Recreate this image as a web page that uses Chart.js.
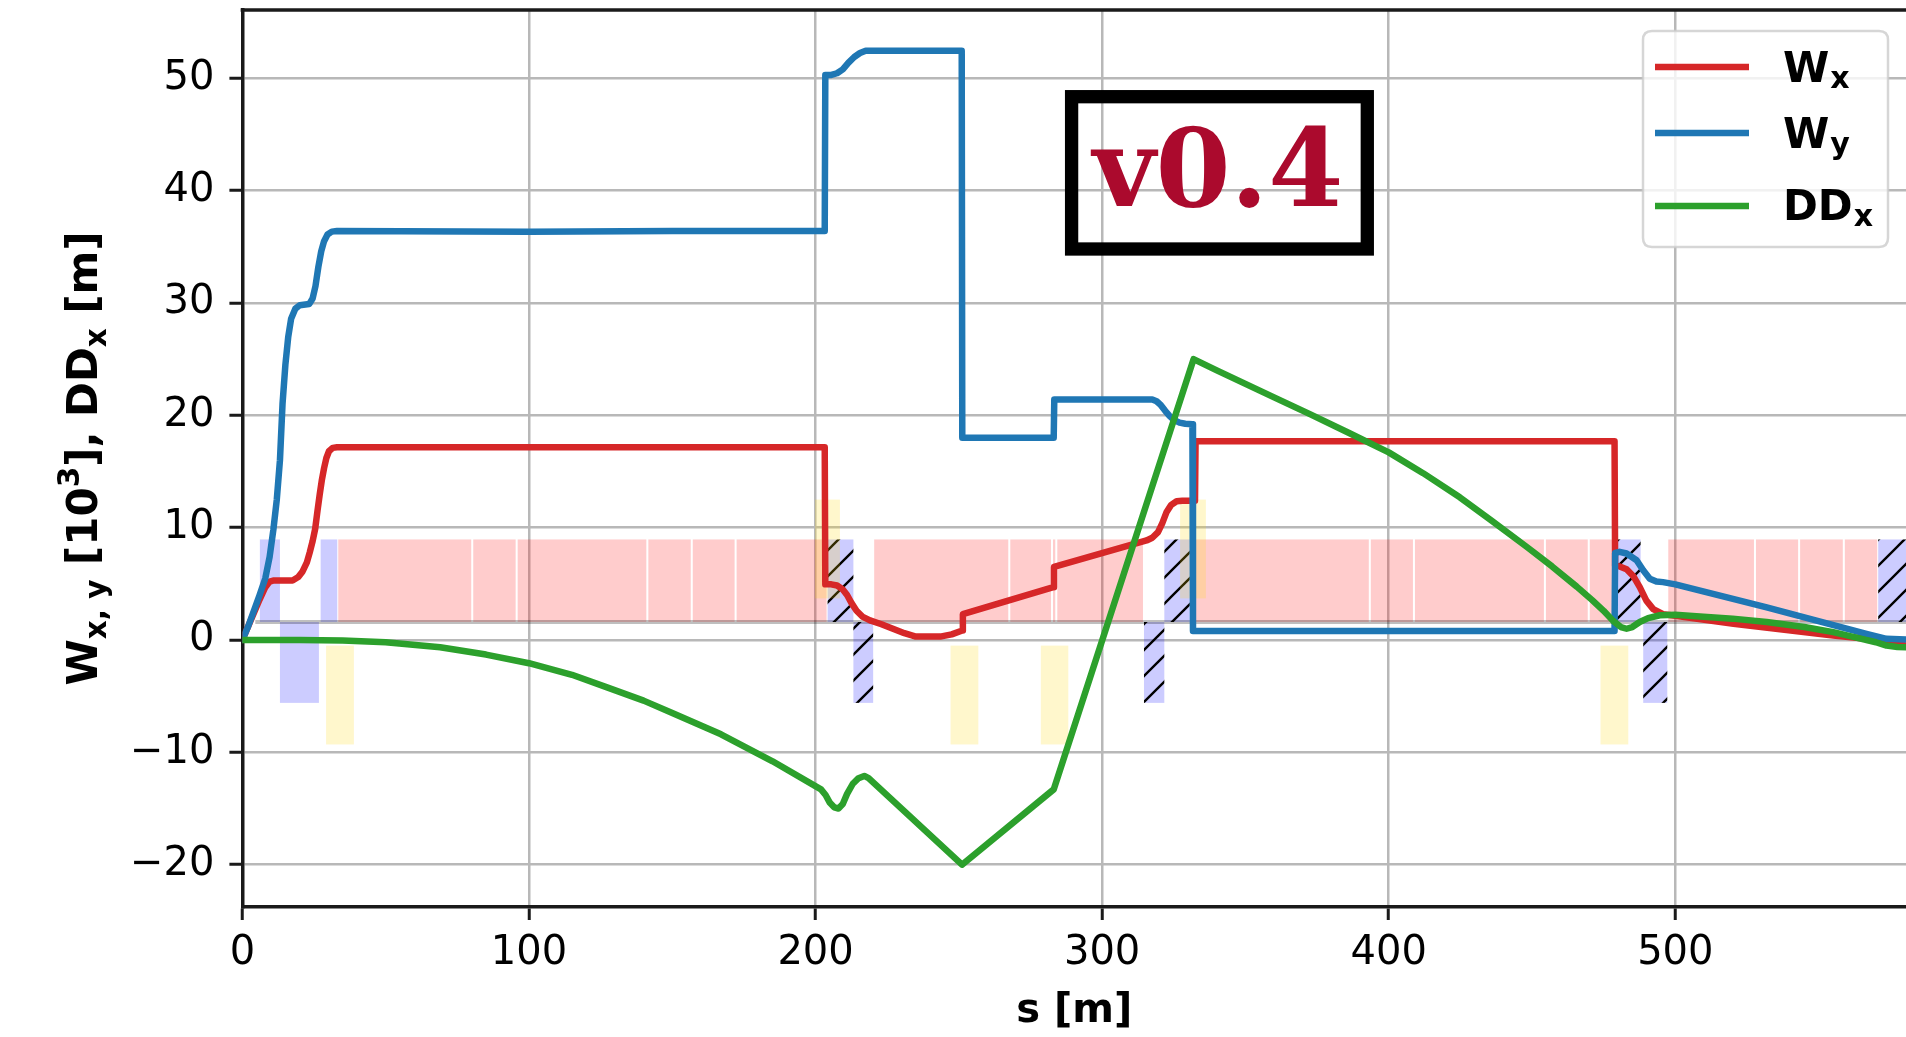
<!DOCTYPE html>
<html>
<head>
<meta charset="utf-8">
<script src="https://cdn.jsdelivr.net/npm/chart.js@4.4.1/dist/chart.umd.min.js"></script>
<style>
html,body{margin:0;padding:0;background:#fff;overflow:hidden}
#wrap{width:1906px;height:1037px;position:relative}
</style>
</head>
<body>
<div id="wrap"><canvas id="c" width="1906" height="1037"></canvas></div>
<script>
// ---------------- data ----------------
const xTicks = [0, 100, 200, 300, 400, 500];
const yTicks = [-20, -10, 0, 10, 20, 30, 40, 50];

// W_x  [10^3]
const sWx = [0, 3, 6, 8, 9.5, 11, 17.5, 19.5, 21, 22.5, 23.5, 24.5, 25.4, 26.2, 27, 27.7, 28.5, 29.3, 30.2, 31.5,
  33, 203.2, 203.4, 205.5, 207.5, 209.5, 211, 212.5, 214.3, 216.5, 219, 223, 227, 231, 235, 243.5, 247.5, 251.2,
  251.4, 283.0, 283.2, 315.5, 317.5, 319.5, 321, 322.5, 324, 326, 328, 332.4, 332.6, 478.8, 479.0, 480.6, 483.0,
  485.3, 487.6, 489.9, 492.3, 495.7, 500, 520.3, 555.1, 566.7, 575, 581];
const Wx = [0, 1.8, 3.6, 4.7, 5.2, 5.3, 5.3, 5.6, 6.1, 6.9, 7.8, 8.8, 9.9, 11.5, 13, 14.2, 15.3, 16.2, 16.8, 17.1,
  17.15, 17.15, 4.95, 4.95, 4.85, 4.5, 4.0, 3.3, 2.6, 2.05, 1.74, 1.4, 1.0, 0.6, 0.3, 0.3, 0.5, 0.85,
  2.3, 4.7, 6.5, 8.86, 9.1, 9.6, 10.4, 11.4, 12.0, 12.35, 12.4, 12.4, 17.7, 17.7, 6.6, 6.55, 6.3,
  5.7, 4.7, 3.5, 2.75, 2.3, 2.15, 1.44, 0.4, 0.1, -0.3, -0.5];

// W_y  [10^3]
const sWy = [0, 2, 4, 6, 8, 9.5, 10.8, 12, 13.1, 14, 15, 16, 17, 18.5, 20, 23.3, 24.5, 25.5, 26.5, 27.5,
  28.5, 29.7, 31.2, 33, 100, 150, 203.2, 203.4, 205.5, 207.5, 209.5, 211.5, 213.5, 215.5, 217.5, 219, 251.0, 251.2,
  283.1, 283.3, 317.5, 319, 320.5, 322, 323.5, 325, 327, 329, 331.5, 331.7, 478.8, 479.0, 480.6, 483.0,
  486.5, 488.8, 491.1, 493.4, 495.7, 500, 531.9, 566.7, 573.7, 581];
const Wy = [0, 1.2, 2.6, 4.0, 5.5, 7.4, 9.8, 12.5, 16, 21, 24.5, 27, 28.6, 29.5, 29.8, 29.9, 30.4, 31.5, 33.2, 34.6,
  35.5, 36.1, 36.35, 36.4, 36.35, 36.4, 36.4, 50.3, 50.3, 50.45, 50.8, 51.4, 51.9, 52.25, 52.45, 52.45, 52.45, 18.0,
  18.0, 21.4, 21.4, 21.25, 20.9, 20.4, 19.95, 19.6, 19.35, 19.25, 19.2, 0.8, 0.8, 7.75, 7.85, 7.7,
  7.1, 6.2, 5.45, 5.2, 5.15, 4.95, 2.9, 0.55, 0.1, 0.05];

// DD_x [m]
const sDDx = [0, 20, 35, 50, 69, 85, 100, 115, 127, 140, 150, 167, 185, 201.9, 203.5, 205, 206.5, 208, 209.5, 211,
  213, 215, 217, 218.5, 251.1, 283.1, 331.9, 340, 350, 360, 372.5, 386, 400, 412, 424.8, 436, 448.1, 457, 465.6, 471,
  475, 478.3, 481, 483, 485, 487.6, 490.5, 494.6, 500, 508.6, 520, 531.9, 545, 555.1, 565, 570, 573.7, 577.5, 581];
const DDx = [0, 0, -0.05, -0.2, -0.64, -1.3, -2.07, -3.1, -4.2, -5.4, -6.5, -8.4, -10.8, -13.3, -13.8, -14.5, -14.9, -15.0, -14.6, -13.7,
  -12.8, -12.3, -12.1, -12.3, -20.0, -13.3, 25.0, 24.0, 22.8, 21.6, 20.1, 18.45, 16.7, 14.85, 12.7, 10.6, 8.3, 6.55, 4.75, 3.55,
  2.6, 1.7, 1.15, 1.0, 1.15, 1.6, 1.95, 2.2, 2.25, 2.1, 1.9, 1.6, 1.15, 0.7, 0.1, -0.2, -0.5, -0.62, -0.65];

// lattice elements: [s_start, s_end]  (m)
const dipoles = [[33.1, 80.2], [80.2, 95.7], [95.7, 141.3], [141.3, 156.8], [156.8, 172.1], [172.1, 204.2],
  [220.1, 267.6], [267.6, 282.5], [282.5, 284.0], [284.0, 314.6], [330.6, 393.4], [393.4, 408.8], [408.8, 454.5],
  [454.5, 469.8], [469.8, 478.9], [497.2, 527.8], [527.8, 543.2], [543.2, 558.8], [558.8, 570.8]];
const quadsF = [[6.1, 13.1], [27.3, 33.1]];
const quadsD = [[13.1, 26.7]];
const quadsFHatched = [[204.2, 213.2], [321.7, 330.6], [478.9, 487.9], [570.8, 600]];
const quadsDHatched = [[213.2, 220.1], [314.6, 321.7], [488.8, 497.2]];
const sextUpper = [[199.8, 208.5], [327.2, 336.2]];
const sextLower = [[29.2, 38.9], [247.1, 256.8], [278.6, 288.2], [473.9, 483.6]];

// ---------------- layout / style constants ----------------
const X_MIN = 0, X_MAX = 580.5, Y_MIN = -23.77, Y_MAX = 56.08;
const LAT = {base: 1.6, top: 8.95, bottom: -5.6, sextUp: [3.7, 12.5], sextDown: [-0.5, -9.3], lineStart: 4.5};
const C_RED = '#d62728', C_BLUE = '#1f77b4', C_GREEN = '#2ca02c';
const FONT = "'DejaVu Sans', sans-serif";

const toPts = (s, v) => s.map((x, i) => ({x: x, y: v[i]}));
const fmt = v => (v < 0 ? '\u2212' + Math.abs(v) : String(v));

let hatch = null;
function getHatch(ctx) {
  if (hatch) return hatch;
  const n = 26, c = document.createElement('canvas');
  c.width = n; c.height = n;
  const g = c.getContext('2d');
  g.fillStyle = 'rgba(0,0,255,0.2)';
  g.fillRect(0, 0, n, n);
  g.strokeStyle = '#000'; g.lineWidth = 2.4;
  g.beginPath();
  g.moveTo(0, n); g.lineTo(n, 0);
  g.moveTo(-n / 2, n / 2); g.lineTo(n / 2, -n / 2);
  g.moveTo(n / 2, n + n / 2); g.lineTo(n + n / 2, n / 2);
  g.stroke();
  hatch = ctx.createPattern(c, 'repeat');
  return hatch;
}

function span(ctx, xs, ys, s0, s1, v0, v1, style, inset) {
  const xa = xs.getPixelForValue(s0) + inset, xb = xs.getPixelForValue(s1) - inset;
  const ya = ys.getPixelForValue(v0), yb = ys.getPixelForValue(v1);
  ctx.fillStyle = style;
  ctx.fillRect(Math.min(xa, xb), Math.min(ya, yb), Math.abs(xb - xa), Math.abs(yb - ya));
}

const latticePlugin = {
  id: 'lattice',
  beforeDatasetsDraw(chart) {
    const {ctx, chartArea: a, scales: {x, y}} = chart;
    ctx.save();
    ctx.beginPath(); ctx.rect(a.left, a.top, a.right - a.left, a.bottom - a.top); ctx.clip();
    const pink = 'rgba(255,0,0,0.2)', lav = 'rgba(0,0,255,0.2)', yel = 'rgba(255,215,0,0.2)';
    dipoles.forEach(d => span(ctx, x, y, d[0], d[1], LAT.base, LAT.top, pink, 1));
    quadsF.forEach(d => span(ctx, x, y, d[0], d[1], LAT.base, LAT.top, lav, 0));
    quadsD.forEach(d => span(ctx, x, y, d[0], d[1], LAT.base, LAT.bottom, lav, 0));
    const h = getHatch(ctx);
    quadsFHatched.forEach(d => span(ctx, x, y, d[0], d[1], LAT.base, LAT.top, h, 0));
    quadsDHatched.forEach(d => span(ctx, x, y, d[0], d[1], LAT.base, LAT.bottom, h, 0));
    sextUpper.forEach(d => span(ctx, x, y, d[0], d[1], LAT.sextUp[0], LAT.sextUp[1], yel, 0));
    sextLower.forEach(d => span(ctx, x, y, d[0], d[1], LAT.sextDown[0], LAT.sextDown[1], yel, 0));
    // baseline of the lattice sketch
    ctx.strokeStyle = 'rgba(0,0,0,0.25)'; ctx.lineWidth = 4;
    ctx.beginPath();
    ctx.moveTo(x.getPixelForValue(LAT.lineStart), y.getPixelForValue(LAT.base));
    ctx.lineTo(a.right, y.getPixelForValue(LAT.base));
    ctx.stroke();
    ctx.restore();
  },
  afterDraw(chart) {
    const {ctx, chartArea: a} = chart;
    ctx.save();
    // top spine
    ctx.strokeStyle = '#1a1a1a'; ctx.lineWidth = 3.5;
    ctx.beginPath(); ctx.moveTo(a.left - 1.75, a.top); ctx.lineTo(a.right, a.top); ctx.stroke();

    // x axis title
    ctx.fillStyle = '#000';
    ctx.font = 'bold 40px ' + FONT;
    ctx.textAlign = 'center'; ctx.textBaseline = 'alphabetic';
    ctx.fillText('s [m]', (a.left + a.right) / 2, 1022);

    // y axis title with sub/superscripts
    const parts = [
      ['W', 42, 0], ['x, y', 29.5, 9], [' [10', 42, 0], ['3', 29.5, -18], ['], DD', 42, 0], ['x', 29.5, 9], [' [m]', 42, 0]
    ];
    let total = 0;
    parts.forEach(p => { ctx.font = 'bold ' + p[1] + 'px ' + FONT; p.push(ctx.measureText(p[0]).width); total += p[3]; });
    ctx.translate(97, (a.top + a.bottom) / 2);
    ctx.rotate(-Math.PI / 2);
    ctx.textAlign = 'left';
    let cx = -total / 2;
    parts.forEach(p => { ctx.font = 'bold ' + p[1] + 'px ' + FONT; ctx.fillText(p[0], cx, p[2]); cx += p[3]; });
    ctx.setTransform(1, 0, 0, 1, 0, 0);

    // version box
    ctx.strokeStyle = '#000'; ctx.lineWidth = 13.3;
    ctx.strokeRect(1071.6, 96.7, 295.7, 152.3);
    ctx.fillStyle = '#ab0a2d';
    ctx.font = 'bold 108px "DejaVu Serif", serif';
    ctx.textAlign = 'center';
    ctx.fillText('v0.4', 1218, 206);

    // legend
    const lx = 1643, ly = 31, lw = 245, lh = 216, r = 9;
    ctx.beginPath();
    ctx.moveTo(lx + r, ly); ctx.lineTo(lx + lw - r, ly); ctx.quadraticCurveTo(lx + lw, ly, lx + lw, ly + r);
    ctx.lineTo(lx + lw, ly + lh - r); ctx.quadraticCurveTo(lx + lw, ly + lh, lx + lw - r, ly + lh);
    ctx.lineTo(lx + r, ly + lh); ctx.quadraticCurveTo(lx, ly + lh, lx, ly + lh - r);
    ctx.lineTo(lx, ly + r); ctx.quadraticCurveTo(lx, ly, lx + r, ly); ctx.closePath();
    ctx.fillStyle = 'rgba(255,255,255,0.8)'; ctx.fill();
    ctx.strokeStyle = 'rgba(204,204,204,0.8)'; ctx.lineWidth = 2.5; ctx.stroke();
    const items = [[C_RED, 'W', 'x', 67, 82], [C_BLUE, 'W', 'y', 133, 148], [C_GREEN, 'DD', 'x', 206, 220]];
    items.forEach(it => {
      ctx.strokeStyle = it[0]; ctx.lineWidth = 6.5; ctx.lineCap = 'butt';
      ctx.beginPath(); ctx.moveTo(1655, it[3]); ctx.lineTo(1749, it[3]); ctx.stroke();
      ctx.fillStyle = '#000'; ctx.textAlign = 'left';
      ctx.font = 'bold 42px ' + FONT;
      ctx.fillText(it[1], 1783, it[4]);
      const w = ctx.measureText(it[1]).width;
      ctx.font = 'bold 30px ' + FONT;
      ctx.fillText(it[2], 1783 + w + 1, it[4] + 6);
    });
    ctx.restore();
  }
};

const common = {pointRadius: 0, borderWidth: 6.5, fill: false, tension: 0, borderJoinStyle: 'round', borderCapStyle: 'round'};

new Chart(document.getElementById('c'), {
  type: 'line',
  data: {
    datasets: [
      Object.assign({label: 'Wx', data: toPts(sWx, Wx), borderColor: C_RED, order: 3}, common),
      Object.assign({label: 'Wy', data: toPts(sWy, Wy), borderColor: C_BLUE, order: 2}, common),
      Object.assign({label: 'DDx', data: toPts(sDDx, DDx), borderColor: C_GREEN, order: 1}, common)
    ]
  },
  options: {
    responsive: false,
    devicePixelRatio: 1,
    animation: false,
    layout: {padding: {top: 10, right: 0, bottom: 0, left: 0}},
    plugins: {legend: {display: false}, tooltip: {enabled: false}},
    scales: {
      x: {
        type: 'linear', min: X_MIN, max: X_MAX,
        afterBuildTicks: s => { s.ticks = xTicks.map(v => ({value: v})); },
        afterFit: s => { s.height = 130; s.paddingLeft = 0; s.paddingRight = 0; },
        ticks: {font: {size: 40, family: FONT}, color: '#000', padding: 10, maxRotation: 0, autoSkip: false, callback: v => fmt(v)},
        grid: {color: '#b8b8b8', lineWidth: 2.5, tickLength: 13, tickColor: '#1a1a1a', tickWidth: 3},
        border: {display: true, color: '#1a1a1a', width: 3.5}
      },
      y: {
        type: 'linear', min: Y_MIN, max: Y_MAX,
        afterBuildTicks: s => { s.ticks = yTicks.map(v => ({value: v})); },
        afterFit: s => { s.width = 242.4; s.paddingTop = 0; s.paddingBottom = 0; },
        ticks: {font: {size: 40, family: FONT}, color: '#000', padding: 15, autoSkip: false, callback: v => fmt(v)},
        grid: {color: '#b8b8b8', lineWidth: 2.5, tickLength: 13, tickColor: '#1a1a1a', tickWidth: 3},
        border: {display: true, color: '#1a1a1a', width: 3.5}
      }
    }
  },
  plugins: [latticePlugin]
});
</script>
</body>
</html>
